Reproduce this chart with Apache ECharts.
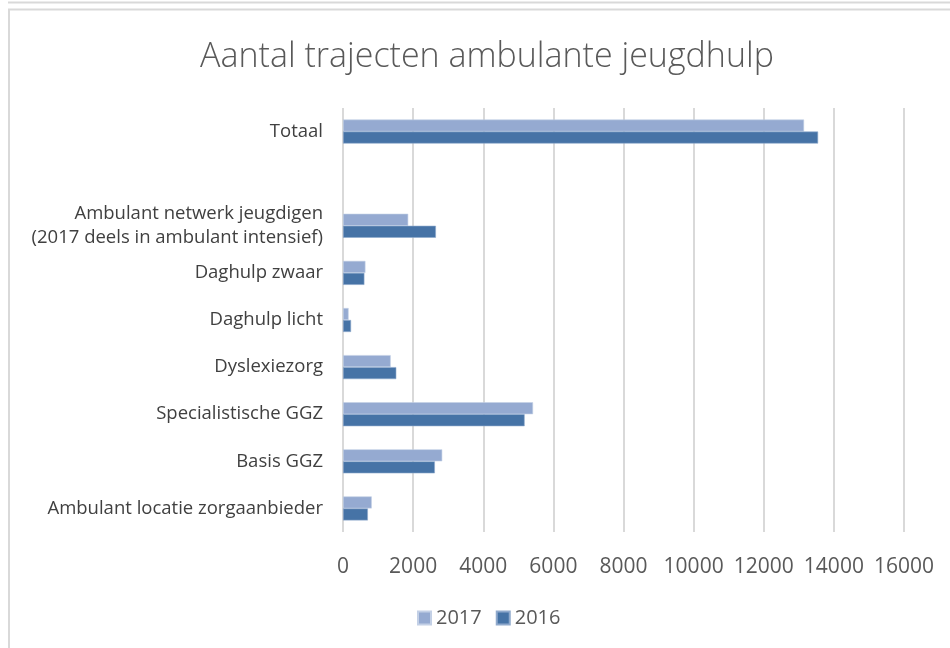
<!DOCTYPE html>
<html>
<head>
<meta charset="utf-8">
<script src="https://cdn.jsdelivr.net/npm/echarts@6/dist/echarts.min.js"></script>
<style>
html, body { margin: 0; padding: 0; background: #fff; }
#chart { width: 950px; height: 648px; }
</style>
</head>
<body>
<div id="chart"></div>
<script>
var categories = [
    'Ambulant locatie zorgaanbieder',
    'Basis GGZ',
    'Specialistische GGZ',
    'Dyslexiezorg',
    'Daghulp licht',
    'Daghulp zwaar',
    'Ambulant netwerk jeugdigen\n(2017 deels in ambulant intensief)',
    '',
    'Totaal'
];
var values2017 = [820, 2830, 5420, 1360, 160, 640, 1860, null, 13150];
var values2016 = [710, 2620, 5180, 1520, 230, 610, 2650, null, 13550];
var xTicks = [0, 2000, 4000, 6000, 8000, 10000, 12000, 14000, 16000];

var font = '"Open Sans", sans-serif';
var myChart = echarts.init(document.getElementById('chart'));
var option = {
    backgroundColor: '#fff',
    animation: false,
    graphic: [
        { type: 'line', shape: { x1: 8, y1: 2.5, x2: 950, y2: 2.5 }, style: { stroke: '#d9d9d9', lineWidth: 2 } },
        { type: 'polyline', shape: { points: [[9, 648], [9, 9.5], [950, 9.5]] }, style: { fill: null, stroke: '#d9d9d9', lineWidth: 2 } }
    ],
    title: {
        text: 'Aantal trajecten ambulante jeugdhulp',
        left: 195,
        top: 35,
        textStyle: { fontFamily: font, fontWeight: 300, fontSize: 34, color: '#595959' }
    },
    legend: {
        data: ['2017', '2016'],
        top: 603,
        left: 412,
        itemWidth: 13,
        itemHeight: 13,
        itemGap: 14,
        icon: 'rect',
        textStyle: { fontFamily: font, fontSize: 20, color: '#595959' }
    },
    grid: { left: 343, right: 46, top: 108, bottom: 116, containLabel: false },
    xAxis: {
        type: 'value',
        min: 0,
        max: 16000,
        interval: 2000,
        axisLine: { show: false },
        axisTick: { show: false },
        splitLine: { lineStyle: { color: '#d9d9d9', width: 2 } },
        axisLabel: {
            margin: 25,
            fontFamily: font, fontSize: 21, color: '#595959',
            formatter: function (v) { return xTicks.indexOf(v) >= 0 ? String(v) : ''; }
        }
    },
    yAxis: {
        type: 'category',
        data: categories,
        axisLine: { show: false },
        axisTick: { show: false },
        axisLabel: {
            margin: 20,
            fontFamily: font, fontSize: 18.5, color: '#404040', lineHeight: 24, align: 'right'
        }
    },
    series: [
        {
            name: '2017', type: 'bar', data: values2017,
            barWidth: 12, barGap: '0%',
            itemStyle: { color: '#95aad1', borderColor: '#c3d0e6', borderWidth: 0.6 }
        },
        {
            name: '2016', type: 'bar', data: values2016,
            barWidth: 12, barGap: '0%',
            itemStyle: { color: '#4673a6', borderColor: '#8fa9cc', borderWidth: 0.6 }
        }
    ]
};
myChart.setOption(option);
</script>
</body>
</html>
